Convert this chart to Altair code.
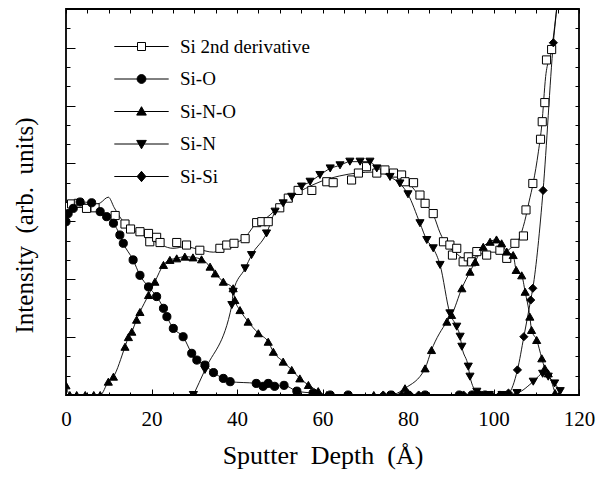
import altair as alt
import pandas as pd

series = ["Si 2nd derivative", "Si-O", "Si-N-O", "Si-N", "Si-Si"]

deriv_x = [0, 1.3, 2.9, 4.8, 6.8, 11.5, 13.8, 15.1, 17.3, 19.3, 19.6, 21.2, 22.0, 25.9, 28.2, 31.3,
           36.0, 37.6, 39.3, 41.9, 44.6, 45.8, 47.3, 50.0, 52.0, 54.3, 57.5, 61.0, 62.5, 66.8, 68.4,
           70.3, 72.7, 74.6, 76.6, 78.5, 79.3, 81.3, 82.8, 84.0, 85.9, 88.3, 89.8, 90.4, 91.4, 92.9,
           94.1, 94.9, 96.1, 98.4, 101.5, 103.1, 105.0, 107.0, 107.6, 109.2, 111.0, 111.4, 112.0,
           112.4, 113.6]
deriv_y = [9.76, 9.9, 9.93, 9.67, 9.7, 9.3, 8.86, 8.6, 8.46, 8.37, 7.94, 8.17, 7.9, 7.9, 7.77, 7.5,
           7.6, 7.77, 7.86, 8.1, 8.93, 8.98, 8.98, 9.7, 10.2, 10.6, 10.6, 11.05, 11.0, 11.14, 11.5,
           11.83, 11.5, 11.66, 11.5, 11.4, 11.05, 11.0, 10.36, 9.93, 9.4, 7.94, 7.77, 7.25, 7.6, 6.9,
           7.16, 6.9, 7.43, 7.25, 7.5, 7.08, 7.86, 8.24, 9.59, 10.96, 13.25, 14.16, 15.15,
           17.36, 17.9]

# smooth curve drawn through the Si 2nd derivative data
fit_x = [0, 3, 6, 8, 9.9, 11.3, 13, 15, 17.5, 20, 22.5, 25, 28, 31, 34.5, 37, 40, 42, 44.5, 47,
         50, 53, 56, 60, 64, 68, 72, 75, 78, 80, 82, 84, 86, 87.5, 89, 91, 93, 95, 97, 99.5, 102,
         104, 106, 107.3, 108.3, 109.3, 110.5, 111.3, 112.2, 113.6, 115]
fit_y = [9.9, 10.0, 9.8, 9.95, 10.25, 9.7, 9.1, 8.65, 8.35, 8.05, 7.75, 7.6, 7.68, 7.55, 7.4, 7.6,
         7.9, 8.2, 8.9, 9.2, 9.8, 10.35, 10.7, 11.1, 11.35, 11.5, 11.55, 11.5, 11.3, 11.0, 10.5,
         9.9, 9.3, 8.4, 7.8, 7.4, 7.1, 7.1, 7.3, 7.4, 7.4, 7.6, 8.1, 9.0, 10.0, 11.0, 12.6, 14.0,
         16.5, 17.9, 20.5]

sio_x = [0, 0.5, 1.7, 3.3, 6.0, 8.0, 9.5, 11.1, 12.6, 13.4, 15.7, 17.3, 19.3, 21.2, 22.8, 23.6,
         25.1, 27.4, 29.4, 30.6, 32.5, 34.5, 36.8, 38.4, 44.5, 46.1, 47.3, 48.8, 51.0, 54.0, 57.8,
         61.8, 66.0, 76.0, 80.0, 84.0, 92.0, 95.0, 96.5, 98.0]
sio_y = [8.98, 9.4, 9.67, 10.0, 9.96, 9.5, 9.24, 8.9, 8.29, 7.86, 7.0, 6.2, 5.6, 5.1, 4.49, 4.06,
         3.45, 3.02, 2.16, 1.81, 1.55, 1.16, 0.86, 0.69, 0.6, 0.45, 0.6, 0.45, 0.5, 0.2, 0.1,
         0.0, 0.0, 0.0, 0.0, 0.0, 0.0, 0.0, 0.0, 0.0]

sino_x = [0, 0.9, 2.5, 4.5, 6.5, 8.0, 9.9, 11.1, 13.8, 14.6, 15.4, 16.5, 17.3, 19.3, 20.8, 22.8,
          24.3, 25.9, 27.8, 29.7, 31.7, 33.7, 34.9, 36.8, 39.1, 39.5, 40.7, 42.6, 45.0, 47.3, 48.5,
          50.8, 52.8, 54.7, 56.7, 59.0, 61.0, 66.0, 72.0, 76.0, 79.3, 84.0, 85.5, 89.1, 90.2, 92.6,
          94.5, 95.7, 97.6, 99.2, 100.7, 101.9, 103.1, 104.6, 105.3, 106.6, 107.4, 108.5, 108.9,
          110.1, 111.3, 112.0, 112.8, 114.4]
sino_y = [0.5, 0.0, 0.0, 0.0, 0.0, 0.0, 0.69, 0.95, 2.5, 3.0, 3.28, 3.9, 4.3, 5.18, 5.87, 6.74,
          7.0, 7.08, 7.17, 7.13, 7.03, 6.65, 6.3, 5.87, 5.53, 4.92, 4.4, 3.8, 3.2, 2.76, 2.24,
          1.73, 1.3, 0.86, 0.52, 0.2, 0.0, 0.0, 0.0, 0.0, 0.35, 1.38, 2.33, 3.8, 4.15, 5.53,
          6.39, 6.9, 7.68, 7.94, 8.06, 7.86, 7.43, 7.25, 6.48, 6.2, 5.35, 4.06, 3.37,
          2.85, 1.9, 1.38, 1.12, 0.1]

sin_x = [29.8, 32.5, 38.8, 39.1, 41.9, 43.4, 46.9, 48.9, 50.8, 52.8, 55.1, 57.1, 59.4, 61.8, 64.1,
         66.4, 68.8, 71.1, 72.7, 75.8, 78.1, 80.0, 82.8, 84.4, 85.9, 87.5, 89.8, 91.4, 92.2, 92.6,
         94.1, 94.5, 96.1, 99.0, 102.0, 105.5, 109.3, 111.5, 112.8, 114.3, 115.6]
sin_y = [0.0, 1.3, 4.66, 5.35, 6.56, 7.25, 8.37, 9.5, 9.93, 10.27, 10.8, 11.05, 11.4, 11.74, 11.9,
         12.09, 12.09, 12.09, 11.74, 11.3, 10.96, 10.4, 8.9, 8.03, 7.6, 6.74, 4.23, 3.54, 3.02, 2.5,
         1.47, 0.95, 0.17, 0.0, 0.0, 0.1, 0.69, 1.1, 0.95, 0.6, 0.2]

sisi_x = [74.2, 76.5, 78.5, 80.5, 82.5, 93.0, 95.0, 97.0, 99.5, 101.5, 103.5, 105.6, 107.1, 108.7,
          109.2, 111.6, 114.0, 115.3]
sisi_y = [0.0, 0.0, 0.0, 0.0, 0.0, 0.0, 0.0, 0.0, 0.0, 0.0, 0.1, 1.3, 3.02, 4.92,
          5.53, 10.6, 18.25, 21.0]

x_ticks = [0, 20, 40, 60, 80, 100, 120]
x_minor = list(range(0, 121, 5))
y_major = list(range(0, 21, 3))
y_minor = list(range(0, 21, 1))

FONT = "Liberation Serif"

def frame(name, xs, ys):
    return pd.DataFrame({"series": name, "x": xs, "y": ys})

pts = pd.concat([
    frame(series[0], deriv_x, deriv_y),
    frame(series[1], sio_x, sio_y),
    frame(series[2], sino_x, sino_y),
    frame(series[3], sin_x, sin_y),
    frame(series[4], sisi_x, sisi_y),
], ignore_index=True)

lines = pd.concat([
    frame(series[0], fit_x, fit_y),
    frame(series[1], sio_x, sio_y),
    frame(series[2], sino_x, sino_y),
    frame(series[3], sin_x, sin_y),
    frame(series[4], sisi_x, sisi_y),
], ignore_index=True)

xs = alt.Scale(domain=[0, 120], nice=False, zero=False)
ys = alt.Scale(domain=[0, 20], nice=False, zero=False)

marker_shapes = ["square", "circle", "triangle-up", "triangle-down", "diamond"]
fills = ["white", "black", "black", "black", "black"]

seg = "M-3.4,0H-0.5M0.5,0H3.4"
legend_shapes = [
    seg + "M-0.5,-0.5H0.5V0.5H-0.5Z",
    "M-3.4,0H3.4M-0.55,0A0.55,0.55 0 1,0 0.55,0A0.55,0.55 0 1,0 -0.55,0Z",
    "M-3.4,0H3.4M-0.6,0.45L0,-0.6L0.6,0.45Z",
    "M-3.4,0H3.4M-0.6,-0.45L0,0.6L0.6,-0.45Z",
    "M-3.4,0H3.4M0,-0.65L0.55,0L0,0.65L-0.55,0Z",
]

def ax(orient, values, size, **kw):
    base = dict(orient=orient, values=values, tickSize=size, offset=-size, domain=False,
                grid=False, tickColor="black", tickWidth=1, labels=False, title="")
    base.update(kw)
    return alt.Axis(**base)

def legend(**kw):
    base = dict(orient="none", legendX=66, legendY=28, title=None,
                labelFont=FONT, labelFontSize=19, labelColor="black",
                symbolSize=256, symbolOpacity=1, rowPadding=12.5, labelOffset=29)
    base.update(kw)
    return alt.Legend(**base)

line_layer = alt.Chart(lines).mark_line(color="black", strokeWidth=0.9, clip=True,
                                         interpolate="monotone").encode(
    x=alt.X("x:Q", scale=xs, axis=ax("bottom", x_ticks, 6, labels=True, labelFont=FONT,
                                      labelFontSize=21, labelColor="black", labelPadding=13,
                                      labelFlush=False,
                                      title="Sputter\u00a0 Depth\u00a0 (Å)", titleFont=FONT,
                                      titleFontSize=26, titleFontWeight="normal",
                                      titleColor="black", titlePadding=13)),
    y=alt.Y("y:Q", scale=ys, axis=ax("left", y_major, 9,
                                      title="Intensity\u00a0 (arb.\u00a0 units)",
                                      titleFont=FONT, titleFontSize=25, titleY=216,
                                      titleFontWeight="normal", titleColor="black",
                                      titlePadding=28)),
    detail="series:N",
)

point_layer = alt.Chart(pts).mark_point(filled=True, stroke="black", strokeWidth=1, size=66,
                                         opacity=1, clip=True).encode(
    x=alt.X("x:Q", scale=xs, axis=ax("bottom", x_minor, 3)),
    y=alt.Y("y:Q", scale=ys, axis=ax("left", y_minor, 4)),
    shape=alt.Shape("series:N", scale=alt.Scale(domain=series, range=marker_shapes), legend=None),
    fill=alt.Fill("series:N", scale=alt.Scale(domain=series, range=fills), legend=None),
)

# legend: filled marker bodies
legend_fill = alt.Chart(pts).mark_point(filled=True, size=0).encode(
    x=alt.X("x:Q", scale=xs, axis=ax("top", x_minor, 4)),
    y=alt.Y("y:Q", scale=ys, axis=ax("right", y_minor, 4)),
    shape=alt.Shape("series:N", scale=alt.Scale(domain=series, range=legend_shapes),
                    legend=legend()),
    fill=alt.Fill("series:N", scale=alt.Scale(domain=series, range=fills), legend=legend()),
)

# legend: outlines and line samples
legend_line = alt.Chart(pts).mark_point(filled=False, stroke="black", strokeWidth=1,
                                         size=0).encode(
    x=alt.X("x:Q", scale=xs, axis=None),
    y=alt.Y("y:Q", scale=ys, axis=None),
    shape=alt.Shape("series:N", scale=alt.Scale(domain=series, range=legend_shapes),
                    legend=legend(labelOpacity=0, symbolStrokeWidth=1)),
)

chart = alt.layer(line_layer, point_layer, legend_fill, legend_line).resolve_scale(
    x="shared", y="shared", shape="independent", fill="independent"
).resolve_axis(x="independent", y="independent").properties(
    width=513, height=386,
    autosize=alt.AutoSizeParams(type="none"),
    padding={"left": 66, "top": 9, "right": 32, "bottom": 82},
    background="white",
).configure_view(stroke="black", strokeWidth=1.8)

chart.save("out.html", embed_options={"renderer": "svg", "actions": False})
